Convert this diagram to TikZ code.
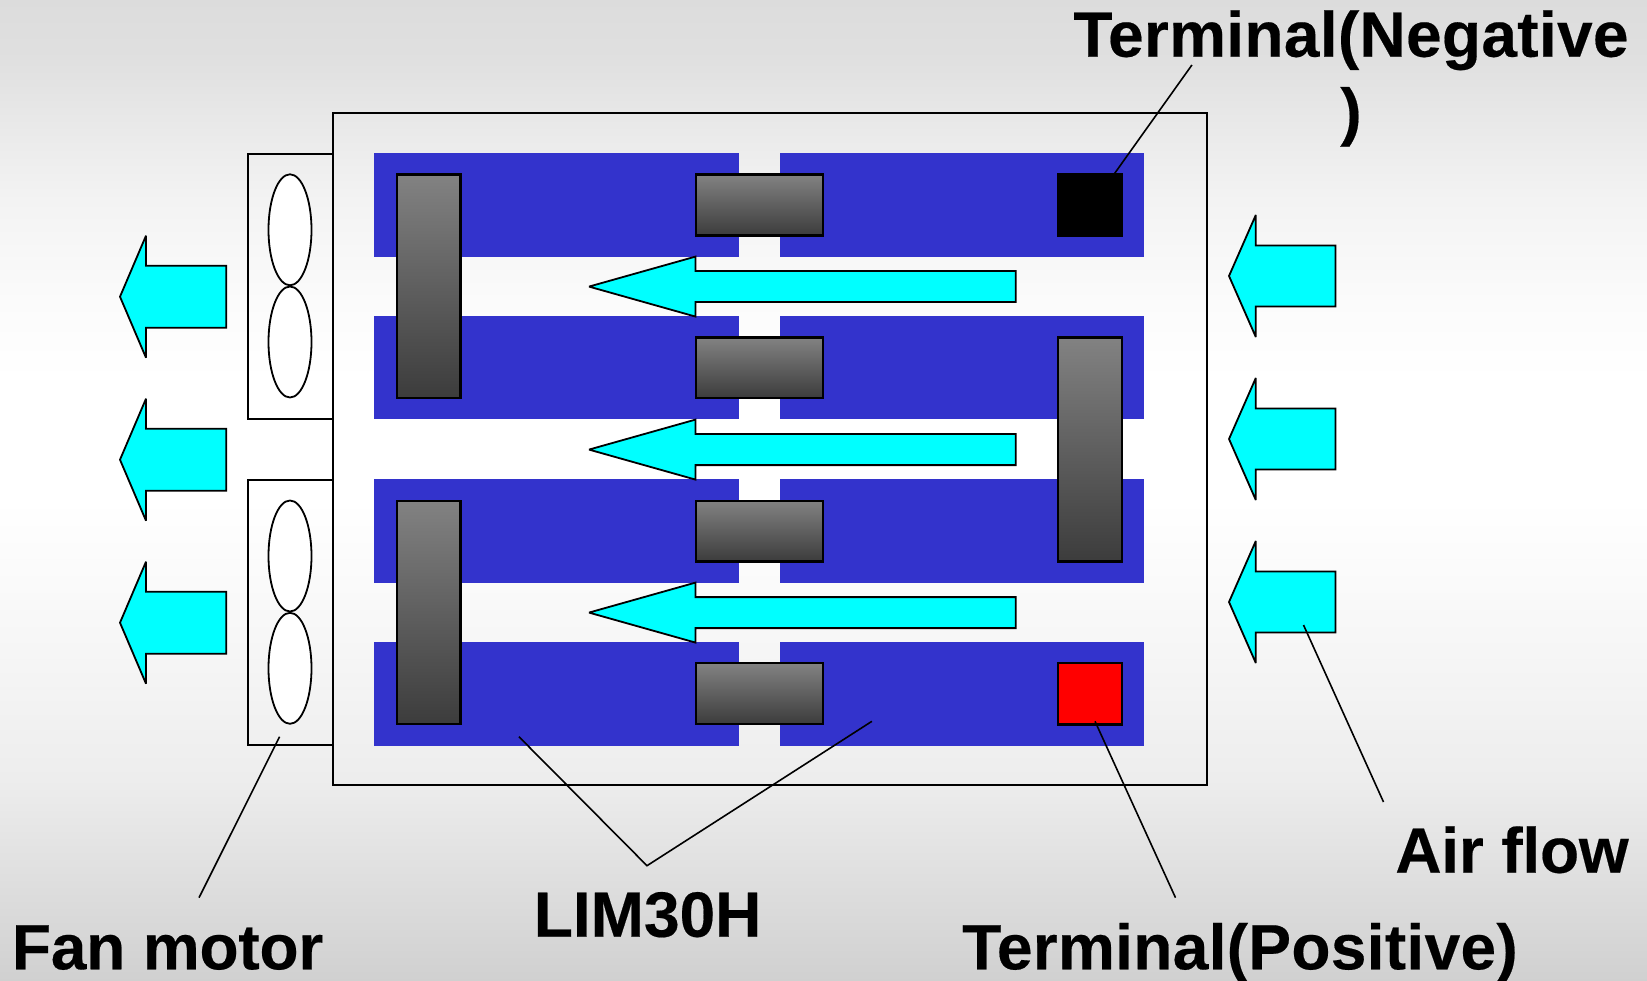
\documentclass[tikz,border=0pt]{standalone}
\usepackage{fontspec}
\setmainfont{Liberation Sans}
\definecolor{bluecell}{RGB}{51,51,204}
\definecolor{gray1}{RGB}{130,130,130}
\definecolor{gray2}{RGB}{60,60,60}
\definecolor{cyan}{RGB}{0,255,255}
\pgfdeclareverticalshading{slidebg}{100bp}{
  rgb(0bp)=(0.816,0.816,0.816);
  rgb(25bp)=(0.816,0.816,0.816);
  rgb(35.24bp)=(0.929,0.929,0.929);
  rgb(41.87bp)=(0.965,0.965,0.965);
  rgb(49.5bp)=(1,1,1);
  rgb(55.63bp)=(1,1,1);
  rgb(59.7bp)=(0.984,0.984,0.984);
  rgb(64.8bp)=(0.953,0.953,0.953);
  rgb(67.87bp)=(0.922,0.922,0.922);
  rgb(71.9bp)=(0.878,0.878,0.878);
  rgb(75bp)=(0.863,0.863,0.863);
  rgb(100bp)=(0.863,0.863,0.863)}
\tikzset{
  x=1pt,y=-1pt,
  blk/.style={inner sep=0pt,outer sep=0pt},
  housing/.style={blk,draw=black,line width=2pt},
  fanbox/.style={blk,draw=black,line width=2pt},
  blade/.style={draw=black,fill=white,line width=1.8pt},
  battery/.style={blk,fill=bluecell},
  busbar/.style={blk,draw=black,line width=2.2pt,top color=gray1,bottom color=gray2},
  termneg/.style={blk,fill=black},
  termpos/.style={blk,draw=black,line width=2.2pt,fill=red},
  flow/.style={draw=black,fill=cyan,line width=1.8pt,line join=miter,miter limit=2},
  leader/.style={draw=black,line width=1.6pt},
  lbl/.style={inner sep=0pt,outer sep=0pt,font=\fontsize{64}{76.7}\selectfont\bfseries\addfontfeature{FakeBold=0.3},text=black},
  wide/.style={font=\fontsize{64}{76.7}\selectfont\bfseries\addfontfeature{FakeBold=0.3,LetterSpace=0.5}},
  tight/.style={font=\fontsize{64}{76.7}\selectfont\bfseries\addfontfeature{FakeBold=0.3,LetterSpace=-0.35}}
}
\newcommand{\boxn}[6]{\node[#2,minimum width={(#5-#3)*1pt},minimum height={(#6-#4)*1pt}] (#1) at ({(#3+#5)/2},{(#4+#6)/2}) {};}
\newcommand{\leftflow}[6]{% tip x, head x, right x, centre y, head half, shaft half
  \path[flow] (#1,#4) -- (#2,#4-#5) -- (#2,#4-#6) -- (#3,#4-#6) -- (#3,#4+#6) -- (#2,#4+#6) -- (#2,#4+#5) -- cycle;}
\begin{document}
\begin{tikzpicture}
\useasboundingbox (0,0) rectangle (1647,981);
\shade[shading=slidebg] (0,0) rectangle (1647,981);

% housing and fans
\boxn{housing}{housing}{332.5}{113}{1207.2}{785}
\boxn{fanA}{fanbox}{248}{153.7}{332.5}{418.7}
\boxn{fanB}{fanbox}{248}{480}{332.5}{744.7}
\foreach \c in {229.8,342,556,668.3}{
  \path[blade] (290,\c) ellipse [x radius=21.5,y radius=55.5];
}

% cells
\foreach \t/\b/\n in {153/256.7/1,316/419.3/2,479/582.5/3,641.7/745.7/4}{
  \boxn{cellL\n}{battery}{374.4}{\t}{738.6}{\b}
  \boxn{cellR\n}{battery}{779.8}{\t}{1144.4}{\b}
}

% air flow arrows
\foreach \c in {296.7,459.7,622.7}{\leftflow{120}{146}{226.3}{\c}{61}{31}}
\foreach \c in {276,439,602}{\leftflow{1229}{1255.8}{1335.5}{\c}{61}{30.5}}
\foreach \c in {286.6,449.6,612.6}{\leftflow{589}{695.5}{1015.7}{\c}{30}{15.5}}

% bus bars
\boxn{barA}{busbar}{396.9}{174.6}{460.5}{397.8}
\boxn{barB}{busbar}{396.9}{500.6}{460.5}{724.2}
\boxn{barC}{busbar}{1058.3}{337.6}{1121.9}{561.5}
\foreach \t/\b/\n in {174.6/235.5/1,337.6/398/2,500.6/561.5/3,663.2/724.2/4}{
  \boxn{link\n}{busbar}{695.8}{\t}{823.3}{\b}
}

% terminals
\boxn{neg}{termneg}{1057}{173}{1123}{237}
\boxn{pos}{termpos}{1058.2}{663.2}{1121.8}{724.5}

% labels
\node[lbl,wide,anchor=base] (lneg) at (1351,56.7) {Terminal(Negative};
\node[lbl,anchor=base] (lneg2) at (1351,133.4) {)};
\node[lbl,tight,anchor=base] (lfan) at (167.6,969.3) {Fan motor};
\node[lbl,anchor=base] (llim) at (647.6,936.7) {LIM30H};
\node[lbl,tight,anchor=base] (lair) at (1512,872.7) {Air flow};
\node[lbl,wide,anchor=base] (lpos) at (1240,969.3) {Terminal(Positive)};

% leader ends
\coordinate (n1) at (1191.9,65);
\coordinate (n2) at (1114.7,173.3);
\coordinate (f1) at (279.6,736.7);
\coordinate (f2) at (199,897.7);
\coordinate (l1) at (518.9,736.7);
\coordinate (l2) at (647,865.7);
\coordinate (l3) at (871.9,721.3);
\coordinate (p1) at (1095,721.3);
\coordinate (p2) at (1175.5,897.7);
\coordinate (a1) at (1303.5,625);
\coordinate (a2) at (1383.5,802);

\draw[leader] (n1) -- (n2);
\draw[leader] (f1) -- (f2);
\draw[leader] (l1) -- (l2) -- (l3);
\draw[leader] (p1) -- (p2);
\draw[leader] (a1) -- (a2);
\end{tikzpicture}
\end{document}
